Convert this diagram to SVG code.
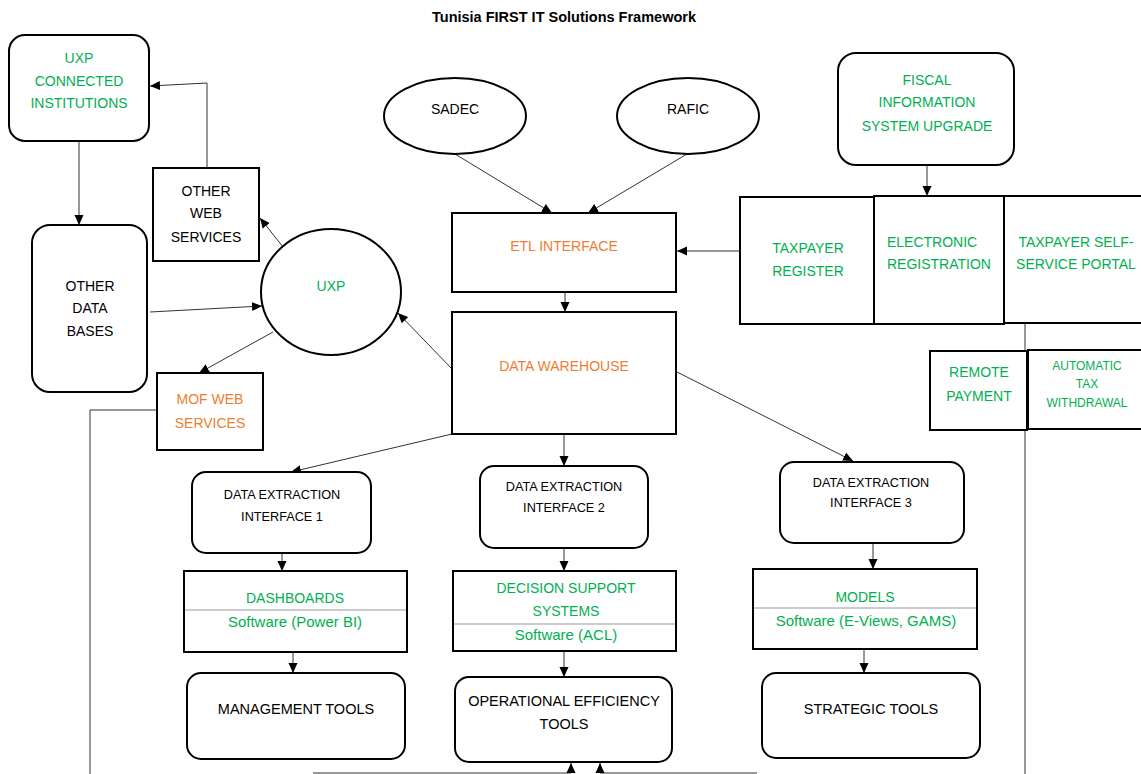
<svg xmlns="http://www.w3.org/2000/svg" width="1141" height="774" viewBox="0 0 1141 774">
<style>
text{font-family:"Liberation Sans",Arial,sans-serif;font-size:14px;text-anchor:middle;dominant-baseline:central;fill:#000}
.g{fill:#00B050}
.o{fill:#ED7D31}
.sw{font-size:15px}
.sm{font-size:12.7px}
.xs{font-size:12px}
.n{fill:#fff;stroke:#000;stroke-width:2}
.c{fill:none;stroke:#333;stroke-width:1}
.ca{fill:none;stroke:#333;stroke-width:1;marker-end:url(#ah)}
.dv{stroke:#999;stroke-width:1}
.t{font-weight:bold;font-size:14.5px}
</style>
<defs>
<marker id="ah" viewBox="0 0 10 10" refX="10" refY="5" markerWidth="10" markerHeight="10" markerUnits="userSpaceOnUse" orient="auto">
<path d="M0,0.5 L10,5 L0,9.5 Z" fill="#000"/>
</marker>
</defs>
<rect width="1141" height="774" fill="#fff"/>
<text class="t" x="564" y="17">Tunisia FIRST IT Solutions Framework</text>

<g id="connectors">
<line class="ca" x1="79" y1="141" x2="79" y2="225"/>
<polyline class="ca" points="207,168 207,83 150,86"/>
<line class="ca" x1="283" y1="247" x2="260" y2="218"/>
<line class="ca" x1="150" y1="312" x2="262" y2="306"/>
<line class="ca" x1="273" y1="332" x2="199" y2="373"/>
<polyline class="c" points="157,410 90,410 90,774"/>
<line class="ca" x1="453" y1="370" x2="398" y2="313"/>
<line class="ca" x1="455" y1="154" x2="552" y2="213"/>
<line class="ca" x1="687" y1="154" x2="588" y2="213"/>
<line class="ca" x1="741" y1="251" x2="677" y2="251"/>
<line class="ca" x1="565" y1="292" x2="565" y2="312"/>
<line class="ca" x1="452" y1="434" x2="291" y2="472"/>
<line class="ca" x1="564" y1="434" x2="564" y2="466"/>
<line class="ca" x1="677" y1="372" x2="853" y2="461"/>
<line class="ca" x1="927" y1="165" x2="927" y2="196"/>
<line class="ca" x1="282" y1="553" x2="282" y2="571"/>
<line class="ca" x1="293" y1="652" x2="293" y2="673"/>
<line class="ca" x1="564" y1="548" x2="564" y2="571"/>
<line class="ca" x1="564" y1="651" x2="564" y2="677"/>
<line class="ca" x1="873" y1="543" x2="873" y2="569"/>
<line class="ca" x1="864" y1="649" x2="864" y2="673"/>
<line class="c" x1="1025" y1="323" x2="1025" y2="774"/>
<polyline class="ca" points="313,773 571,773 571,763"/>
<polyline class="ca" points="757,773 600,773 600,763"/>
</g>

<g id="uxp-connected">
<rect class="n" x="9" y="35" width="140" height="106" rx="16"/>
<text class="g" x="79" y="58">UXP</text>
<text class="g" x="79" y="81">CONNECTED</text>
<text class="g" x="79" y="103">INSTITUTIONS</text>
</g>
<g id="other-data-bases">
<rect class="n" x="32" y="225" width="115" height="167" rx="18"/>
<text x="90" y="286">OTHER</text>
<text x="90" y="308">DATA</text>
<text x="90" y="331">BASES</text>
</g>
<g id="other-web-services">
<rect class="n" x="153" y="168" width="106" height="93"/>
<text x="206" y="191">OTHER</text>
<text x="206" y="213">WEB</text>
<text x="206" y="237">SERVICES</text>
</g>
<g id="uxp">
<ellipse class="n" cx="331" cy="292" rx="70" ry="63"/>
<text class="g" x="331" y="286">UXP</text>
</g>
<g id="mof-web-services">
<rect class="n" x="157" y="373" width="106" height="77"/>
<text class="o" x="210" y="399">MOF WEB</text>
<text class="o" x="210" y="423">SERVICES</text>
</g>
<g id="sadec">
<ellipse class="n" cx="455" cy="116" rx="71" ry="38"/>
<text x="455" y="109">SADEC</text>
</g>
<g id="rafic">
<ellipse class="n" cx="688" cy="116" rx="71" ry="38"/>
<text x="688" y="109">RAFIC</text>
</g>
<g id="etl-interface">
<rect class="n" x="452" y="213" width="224" height="79"/>
<text class="o" x="564" y="246">ETL INTERFACE</text>
</g>
<g id="data-warehouse">
<rect class="n" x="452" y="312" width="224" height="122"/>
<text class="o" x="564" y="366">DATA WAREHOUSE</text>
</g>
<g id="fiscal">
<rect class="n" x="838" y="53" width="176" height="112" rx="18"/>
<text class="g" x="927" y="80">FISCAL</text>
<text class="g" x="927" y="102">INFORMATION</text>
<text class="g" x="927" y="126">SYSTEM UPGRADE</text>
</g>
<g id="taxpayer-register">
<rect class="n" x="740" y="197" width="134" height="127"/>
<text class="g" x="808" y="248">TAXPAYER</text>
<text class="g" x="808" y="271">REGISTER</text>
</g>
<g id="electronic-registration">
<rect class="n" x="874" y="196" width="130" height="128"/>
<text class="g" x="887" y="242" style="text-anchor:start">ELECTRONIC</text>
<text class="g" x="887" y="264" style="text-anchor:start">REGISTRATION</text>
</g>
<g id="self-service-portal">
<rect class="n" x="1004" y="196" width="140" height="127"/>
<text class="g" x="1076" y="242">TAXPAYER SELF-</text>
<text class="g" x="1076" y="264">SERVICE PORTAL</text>
</g>
<g id="remote-payment">
<rect class="n" x="930" y="351" width="97" height="79"/>
<text class="g" x="979" y="372">REMOTE</text>
<text class="g" x="979" y="396">PAYMENT</text>
</g>
<g id="automatic-tax">
<rect class="n" x="1028" y="350" width="116" height="79"/>
<text class="g xs" x="1087" y="366">AUTOMATIC</text>
<text class="g xs" x="1087" y="384">TAX</text>
<text class="g xs" x="1087" y="403">WITHDRAWAL</text>
</g>
<g id="dei1">
<rect class="n" x="192" y="472" width="179" height="81" rx="14"/>
<text class="sm" x="282" y="495">DATA EXTRACTION</text>
<text class="sm" x="282" y="517">INTERFACE 1</text>
</g>
<g id="dei2">
<rect class="n" x="480" y="466" width="168" height="82" rx="14"/>
<text class="sm" x="564" y="487">DATA EXTRACTION</text>
<text class="sm" x="564" y="508">INTERFACE 2</text>
</g>
<g id="dei3">
<rect class="n" x="780" y="462" width="184" height="81" rx="14"/>
<text class="sm" x="871" y="483">DATA EXTRACTION</text>
<text class="sm" x="871" y="503">INTERFACE 3</text>
</g>
<g id="dashboards">
<rect class="n" x="184" y="571" width="223" height="81"/>
<line class="dv" x1="185" y1="610" x2="406" y2="610"/>
<text class="g" x="295" y="598">DASHBOARDS</text>
<text class="g sw" x="295" y="621">Software (Power BI)</text>
</g>
<g id="dss">
<rect class="n" x="453" y="571" width="223" height="80"/>
<line class="dv" x1="454" y1="624" x2="675" y2="624"/>
<text class="g" x="566" y="588">DECISION SUPPORT</text>
<text class="g" x="566" y="611">SYSTEMS</text>
<text class="g sw" x="566" y="634">Software (ACL)</text>
</g>
<g id="models">
<rect class="n" x="753" y="569" width="224" height="80"/>
<line class="dv" x1="754" y1="608" x2="976" y2="608"/>
<text class="g" x="865" y="597">MODELS</text>
<text class="g sw" x="866" y="620">Software (E-Views, GAMS)</text>
</g>
<g id="management-tools">
<rect class="n" x="187" y="673" width="218" height="86" rx="14"/>
<text x="296" y="709" style="font-size:14.5px">MANAGEMENT TOOLS</text>
</g>
<g id="operational-tools">
<rect class="n" x="455" y="677" width="217" height="85" rx="14"/>
<text x="564" y="701" style="font-size:14.5px">OPERATIONAL EFFICIENCY</text>
<text x="564" y="724" style="font-size:14.5px">TOOLS</text>
</g>
<g id="strategic-tools">
<rect class="n" x="762" y="673" width="218" height="85" rx="14"/>
<text x="871" y="709" style="font-size:14.5px">STRATEGIC TOOLS</text>
</g>
</svg>
